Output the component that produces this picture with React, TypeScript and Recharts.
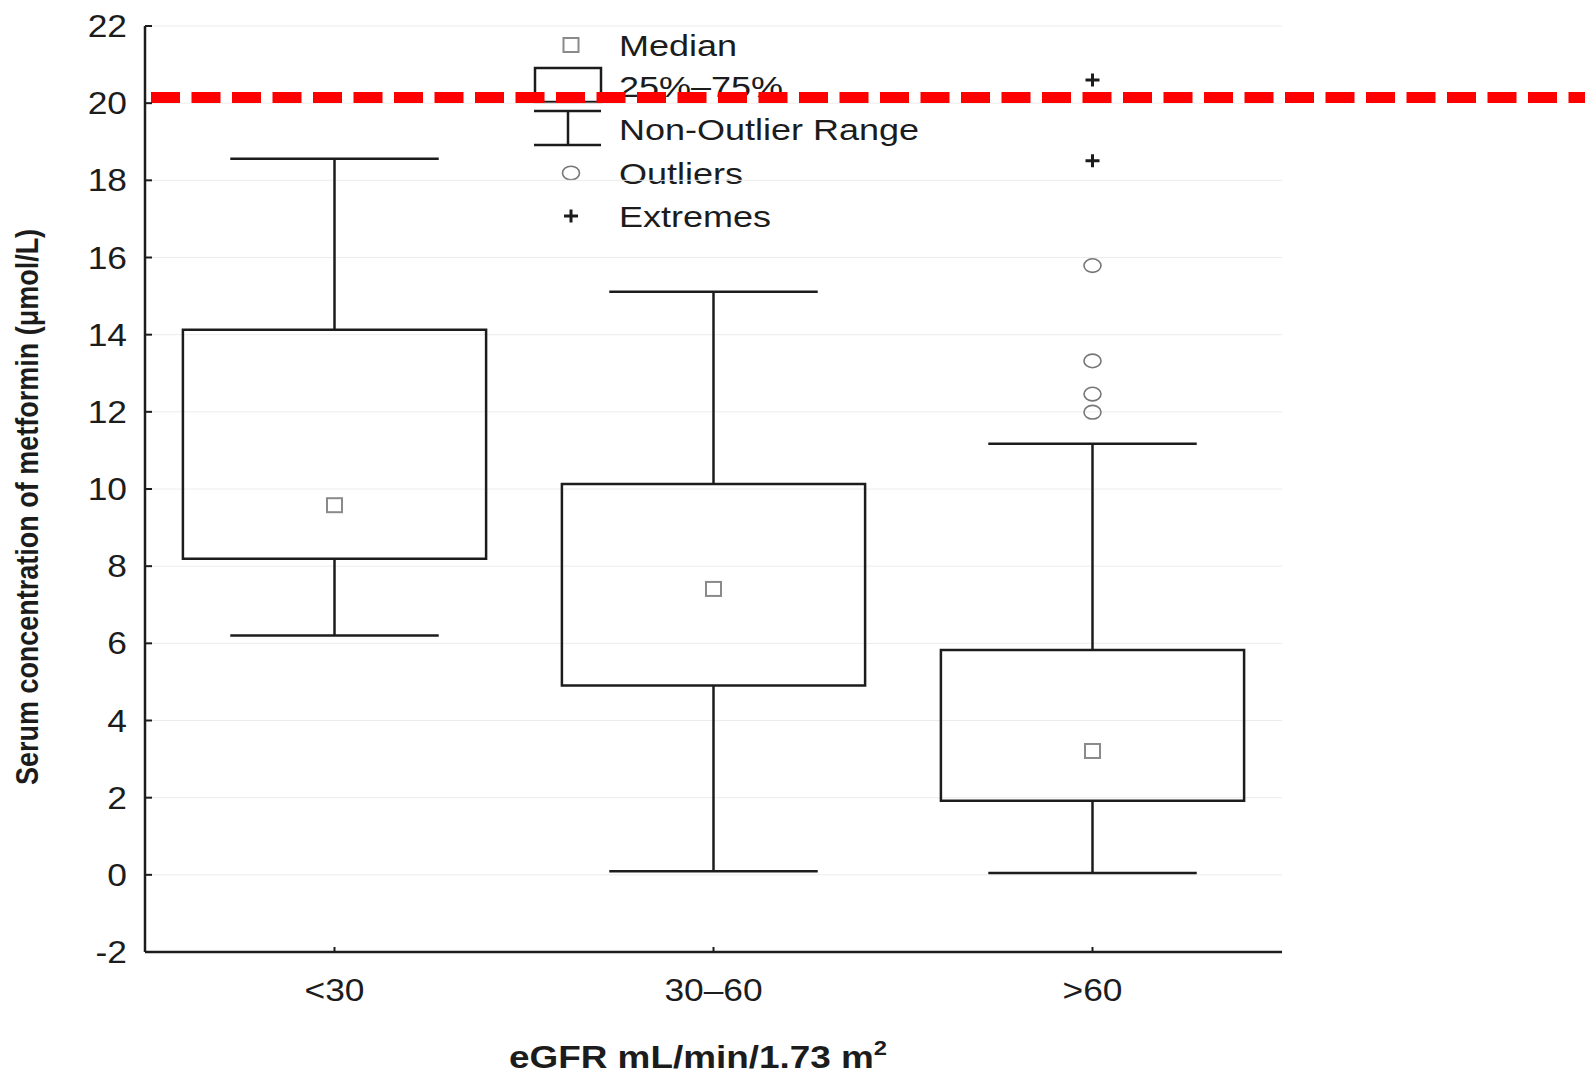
import {
  CartesianGrid,
  ComposedChart,
  ReferenceArea,
  ReferenceLine,
  Scatter,
  XAxis,
  YAxis,
} from "recharts";

const GROUPS = ["<30", "30–60", ">60"];
const WHISKER_LOW = [6.2, 0.09, 0.05];
const Q1 = [8.19, 4.91, 1.92];
const MEDIAN = [9.58, 7.41, 3.21];
const Q3 = [14.13, 10.13, 5.83];
const WHISKER_HIGH = [18.56, 15.11, 11.17];
const OUTLIERS_GT60 = [15.79, 13.32, 12.46, 11.99];
const EXTREMES_GT60 = [20.6, 18.51];
const Y_TICKS = [-2, 0, 2, 4, 6, 8, 10, 12, 14, 16, 18, 20, 22];
const THRESHOLD = 20.15;
const LEGEND_LABELS = ["Median", "25%–75%", "Non-Outlier Range", "Outliers", "Extremes"];

const W = 1585;
const H = 1075;
const FONT = '"Liberation Sans", Arial, Helvetica, sans-serif';
const INK = "#1c1c1c";
const BOX_HALF = 0.4;
const CAP_HALF = 0.275;

// category index -> place on the numeric x axis
const pos = (i: number) => i + 0.5;
const X_TICKS = GROUPS.map((_, i) => pos(i));

const medianPoints = MEDIAN.map((v, i) => ({ x: pos(i), y: v }));
const outlierPoints = OUTLIERS_GT60.map((v) => ({ x: pos(2), y: v }));
const extremePoints = EXTREMES_GT60.map((v) => ({ x: pos(2), y: v }));

function MedianMark({ cx, cy }: any) {
  return (
    <rect x={cx - 7.5} y={cy - 7} width={15} height={14} fill="#fff" stroke="#8a8a8a" strokeWidth={2} />
  );
}

function OutlierMark({ cx, cy }: any) {
  return <ellipse cx={cx} cy={cy} rx={8.5} ry={6.8} fill="none" stroke="#777" strokeWidth={1.6} />;
}

function ExtremeMark({ cx, cy }: any) {
  return (
    <path
      d={`M${cx - 7} ${cy}H${cx + 7}M${cx} ${cy - 6.5}V${cy + 6.5}`}
      stroke={INK}
      strokeWidth={3}
      fill="none"
    />
  );
}

function YTick({ x, y, payload }: any) {
  return (
    <g>
      <line x1={x} x2={x + 7} y1={y} y2={y} stroke={INK} strokeWidth={2} />
      <text
        transform={`translate(${x - 18} ${y + 11}) scale(1.14 1)`}
        textAnchor="end"
        fontSize={31}
        fontFamily={FONT}
        fill={INK}
      >
        {payload.value}
      </text>
    </g>
  );
}

function XTick({ x, y, payload }: any) {
  return (
    <g>
      <line x1={x} x2={x} y1={y} y2={y - 5} stroke={INK} strokeWidth={2} />
      <text
        transform={`translate(${x} ${y + 49}) scale(1.14 1)`}
        textAnchor="middle"
        fontSize={31}
        fontFamily={FONT}
        fill={INK}
      >
        {GROUPS[Math.floor(payload.value)]}
      </text>
    </g>
  );
}

function LegendSymbol({ index, y }: { index: number; y: number }) {
  const cx = 571;
  if (index === 0) {
    return <rect x={cx - 7.5} y={y - 7} width={15} height={14} fill="none" stroke="#8a8a8a" strokeWidth={2} />;
  }
  if (index === 1) {
    return <rect x={535} y={68} width={66} height={34} fill="none" stroke={INK} strokeWidth={2.5} />;
  }
  if (index === 2) {
    return (
      <path d="M534 111H601M534 145H601M568 111V145" stroke={INK} strokeWidth={2.5} fill="none" />
    );
  }
  if (index === 3) {
    return <ellipse cx={cx} cy={y} rx={8.5} ry={6.8} fill="none" stroke="#777" strokeWidth={1.6} />;
  }
  return <path d={`M${cx - 7} ${y}H${cx + 7}M${cx} ${y - 6.5}V${y + 6.5}`} stroke={INK} strokeWidth={3} />;
}

function Overlay() {
  const rows = [45, 86, 129, 173, 216];

  return (
    <svg width={W} height={H} style={{ position: "absolute", left: 0, top: 0 }}>
      {LEGEND_LABELS.map((label, i) => (
        <g key={label}>
          <LegendSymbol index={i} y={rows[i]} />
          <text
            transform={`translate(619 ${rows[i] + 10.5}) scale(1.2 1)`}
            fontSize={30}
            fontFamily={FONT}
            fill={INK}
          >
            {label}
          </text>
        </g>
      ))}

      <text
        transform="translate(27 507) scale(1.15 1) rotate(-90)"
        textAnchor="middle"
        dominantBaseline="central"
        fontSize={27}
        fontWeight="bold"
        fontFamily={FONT}
        fill={INK}
      >
        Serum concentration of metformin (μmol/L)
      </text>

      <text
        transform="translate(698 1068) scale(1.19 1)"
        textAnchor="middle"
        fontSize={31}
        fontWeight="bold"
        fontFamily={FONT}
        fill={INK}
      >
        eGFR mL/min/1.73 m
        <tspan fontSize={20} dy={-13}>
          2
        </tspan>
      </text>
    </svg>
  );
}

export default function App() {
  const whiskers = GROUPS.flatMap((g, i) => [
    <ReferenceLine
      key={`lo-${g}`}
      segment={[{ x: pos(i), y: WHISKER_LOW[i] }, { x: pos(i), y: Q1[i] }]}
      stroke={INK}
      strokeWidth={2.5}
    />,
    <ReferenceLine
      key={`hi-${g}`}
      segment={[{ x: pos(i), y: Q3[i] }, { x: pos(i), y: WHISKER_HIGH[i] }]}
      stroke={INK}
      strokeWidth={2.5}
    />,
    <ReferenceLine
      key={`locap-${g}`}
      segment={[{ x: pos(i) - CAP_HALF, y: WHISKER_LOW[i] }, { x: pos(i) + CAP_HALF, y: WHISKER_LOW[i] }]}
      stroke={INK}
      strokeWidth={2.5}
    />,
    <ReferenceLine
      key={`hicap-${g}`}
      segment={[{ x: pos(i) - CAP_HALF, y: WHISKER_HIGH[i] }, { x: pos(i) + CAP_HALF, y: WHISKER_HIGH[i] }]}
      stroke={INK}
      strokeWidth={2.5}
    />,
  ]);

  const boxes = GROUPS.map((g, i) => (
    <ReferenceArea
      key={`box-${g}`}
      x1={pos(i) - BOX_HALF}
      x2={pos(i) + BOX_HALF}
      y1={Q1[i]}
      y2={Q3[i]}
      fill="none"
      fillOpacity={1}
      stroke={INK}
      strokeWidth={2.5}
    />
  ));

  return (
    <div style={{ position: "absolute", left: 0, top: 0, width: W, height: H, background: "#fff" }}>
      <Overlay />
      <div style={{ position: "absolute", left: 0, top: 0 }}>
        <ComposedChart width={W} height={H} margin={{ top: 26, right: 303, bottom: 0, left: 0 }}>
          <CartesianGrid vertical={false} stroke="#ececec" />
          <XAxis
            type="number"
            dataKey="x"
            domain={[0, 3]}
            ticks={X_TICKS}
            interval={0}
            height={123}
            tickSize={0}
            tickMargin={0}
            tickLine={false}
            tick={<XTick />}
            axisLine={{ stroke: INK, strokeWidth: 2.5 }}
            allowDataOverflow
          />
          <YAxis
            type="number"
            dataKey="y"
            domain={[-2, 22]}
            ticks={Y_TICKS}
            interval={0}
            width={145}
            tickSize={0}
            tickMargin={0}
            tickLine={false}
            tick={<YTick />}
            axisLine={{ stroke: INK, strokeWidth: 2.5 }}
            allowDataOverflow
          />

          {boxes}
          {whiskers}

          <ReferenceLine
            y={THRESHOLD}
            shape={(p: any) => (
              <line
                x1={p.x1 + 6}
                y1={p.y1}
                x2={W}
                y2={p.y2}
                stroke="#ff0000"
                strokeWidth={11}
                strokeDasharray="29 11.5"
              />
            )}
          />

          <Scatter data={medianPoints} dataKey="y" shape={<MedianMark />} isAnimationActive={false} />
          <Scatter data={outlierPoints} dataKey="y" shape={<OutlierMark />} isAnimationActive={false} />
          <Scatter data={extremePoints} dataKey="y" shape={<ExtremeMark />} isAnimationActive={false} />
        </ComposedChart>
      </div>
    </div>
  );
}
